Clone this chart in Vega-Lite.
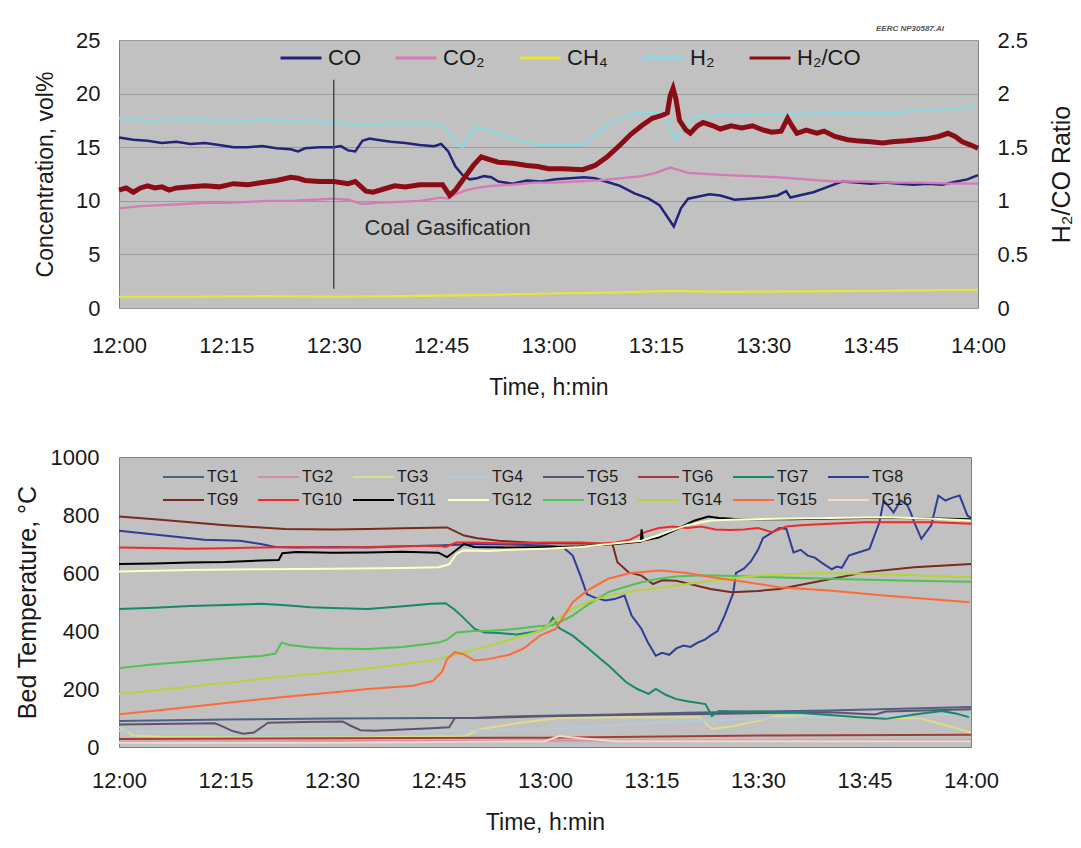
{
  "$schema": "https://vega.github.io/schema/vega-lite/v6.json",
  "background": "white",
  "padding": {"left": 14, "top": 24, "right": 5, "bottom": 5},
  "spacing": 45,
  "resolve": {"scale": {"color": "independent", "strokeWidth": "independent", "x": "independent"}, "legend": {"color": "independent"}},
  "config": {
    "font": "Liberation Sans",
    "view": {"fill": "#c1c1c1", "stroke": "#808080", "strokeWidth": 1},
    "axis": {"domain": false, "ticks": false, "grid": false, "labelFont": "Liberation Sans", "labelFontSize": 22, "labelColor": "#1a1a1a", "titleFont": "Liberation Sans", "titleFontSize": 23, "titleFontWeight": "normal", "titleColor": "#1a1a1a"},
    "legend": {"symbolType": "stroke", "symbolSize": 1681, "symbolStrokeWidth": 3, "labelFont": "Liberation Sans", "labelColor": "#1a1a1a", "orient": "none", "direction": "horizontal", "title": null, "clipHeight": 20}
  },
  "datasets": {
    "gas": [
      {"s":"CO","t":0,"v":15.9},{"s":"CO","t":2,"v":15.7},{"s":"CO","t":4,"v":15.6},{"s":"CO","t":6,"v":15.4},{"s":"CO","t":8,"v":15.5},{"s":"CO","t":10,"v":15.3},{"s":"CO","t":12,"v":15.4},{"s":"CO","t":14,"v":15.2},{"s":"CO","t":16,"v":15.0},{"s":"CO","t":18,"v":15.0},{"s":"CO","t":20,"v":15.1},{"s":"CO","t":22,"v":14.9},{"s":"CO","t":24,"v":14.8},{"s":"CO","t":25,"v":14.6},{"s":"CO","t":26,"v":14.9},{"s":"CO","t":28,"v":15.0},{"s":"CO","t":30,"v":15.0},{"s":"CO","t":31,"v":15.1},{"s":"CO","t":32,"v":14.7},{"s":"CO","t":33,"v":14.6},{"s":"CO","t":34,"v":15.6},{"s":"CO","t":35,"v":15.8},{"s":"CO","t":36,"v":15.7},{"s":"CO","t":38,"v":15.5},{"s":"CO","t":40,"v":15.4},{"s":"CO","t":42,"v":15.2},{"s":"CO","t":44,"v":15.1},{"s":"CO","t":45,"v":15.3},{"s":"CO","t":46,"v":14.6},{"s":"CO","t":47,"v":13.2},{"s":"CO","t":48,"v":12.4},{"s":"CO","t":49,"v":12.0},{"s":"CO","t":50,"v":12.1},{"s":"CO","t":51,"v":12.3},{"s":"CO","t":52,"v":12.2},{"s":"CO","t":53,"v":11.8},{"s":"CO","t":55,"v":11.6},{"s":"CO","t":57,"v":11.9},{"s":"CO","t":59,"v":11.8},{"s":"CO","t":61,"v":12.0},{"s":"CO","t":63,"v":12.1},{"s":"CO","t":65,"v":12.2},{"s":"CO","t":66.5,"v":12.1},{"s":"CO","t":68,"v":11.8},{"s":"CO","t":70,"v":11.4},{"s":"CO","t":72,"v":10.7},{"s":"CO","t":74,"v":10.2},{"s":"CO","t":75.5,"v":9.6},{"s":"CO","t":76.5,"v":8.6},{"s":"CO","t":77.5,"v":7.6},{"s":"CO","t":78.5,"v":9.3},{"s":"CO","t":79.5,"v":10.2},{"s":"CO","t":81,"v":10.4},{"s":"CO","t":82.5,"v":10.6},{"s":"CO","t":84,"v":10.5},{"s":"CO","t":86,"v":10.1},{"s":"CO","t":88,"v":10.2},{"s":"CO","t":90,"v":10.3},{"s":"CO","t":92,"v":10.5},{"s":"CO","t":93.2,"v":10.9},{"s":"CO","t":93.8,"v":10.3},{"s":"CO","t":95,"v":10.5},{"s":"CO","t":97,"v":10.8},{"s":"CO","t":99,"v":11.3},{"s":"CO","t":101,"v":11.8},{"s":"CO","t":103,"v":11.7},{"s":"CO","t":105,"v":11.6},{"s":"CO","t":107,"v":11.7},{"s":"CO","t":109,"v":11.6},{"s":"CO","t":111,"v":11.5},{"s":"CO","t":113,"v":11.6},{"s":"CO","t":115,"v":11.5},{"s":"CO","t":117,"v":11.8},{"s":"CO","t":118.5,"v":12.0},{"s":"CO","t":120,"v":12.4},
      {"s":"CO₂","t":0,"v":9.3},{"s":"CO₂","t":3,"v":9.5},{"s":"CO₂","t":6,"v":9.6},{"s":"CO₂","t":9,"v":9.7},{"s":"CO₂","t":12,"v":9.8},{"s":"CO₂","t":15,"v":9.8},{"s":"CO₂","t":18,"v":9.9},{"s":"CO₂","t":21,"v":10.0},{"s":"CO₂","t":24,"v":10.0},{"s":"CO₂","t":27,"v":10.1},{"s":"CO₂","t":30,"v":10.2},{"s":"CO₂","t":32,"v":10.1},{"s":"CO₂","t":34,"v":9.7},{"s":"CO₂","t":36,"v":9.8},{"s":"CO₂","t":39,"v":9.9},{"s":"CO₂","t":42,"v":10.0},{"s":"CO₂","t":45,"v":10.3},{"s":"CO₂","t":46,"v":10.2},{"s":"CO₂","t":47,"v":10.6},{"s":"CO₂","t":48.5,"v":11.0},{"s":"CO₂","t":50,"v":11.2},{"s":"CO₂","t":52,"v":11.4},{"s":"CO₂","t":55,"v":11.5},{"s":"CO₂","t":58,"v":11.7},{"s":"CO₂","t":61,"v":11.7},{"s":"CO₂","t":64,"v":11.8},{"s":"CO₂","t":67,"v":11.9},{"s":"CO₂","t":70,"v":12.1},{"s":"CO₂","t":73,"v":12.3},{"s":"CO₂","t":75,"v":12.6},{"s":"CO₂","t":77,"v":13.1},{"s":"CO₂","t":78,"v":12.9},{"s":"CO₂","t":79.5,"v":12.6},{"s":"CO₂","t":82,"v":12.5},{"s":"CO₂","t":85,"v":12.4},{"s":"CO₂","t":88,"v":12.3},{"s":"CO₂","t":92,"v":12.2},{"s":"CO₂","t":96,"v":12.0},{"s":"CO₂","t":100,"v":11.8},{"s":"CO₂","t":104,"v":11.8},{"s":"CO₂","t":108,"v":11.7},{"s":"CO₂","t":112,"v":11.7},{"s":"CO₂","t":116,"v":11.6},{"s":"CO₂","t":120,"v":11.6},
      {"s":"CH₄","t":0,"v":1.05},{"s":"CH₄","t":10,"v":1.05},{"s":"CH₄","t":20,"v":1.1},{"s":"CH₄","t":30,"v":1.05},{"s":"CH₄","t":40,"v":1.1},{"s":"CH₄","t":50,"v":1.2},{"s":"CH₄","t":60,"v":1.35},{"s":"CH₄","t":70,"v":1.45},{"s":"CH₄","t":77,"v":1.6},{"s":"CH₄","t":85,"v":1.5},{"s":"CH₄","t":95,"v":1.55},{"s":"CH₄","t":105,"v":1.6},{"s":"CH₄","t":112,"v":1.65},{"s":"CH₄","t":120,"v":1.7},
      {"s":"H₂","t":0,"v":17.7},{"s":"H₂","t":4,"v":17.5},{"s":"H₂","t":8,"v":17.6},{"s":"H₂","t":12,"v":17.6},{"s":"H₂","t":16,"v":17.4},{"s":"H₂","t":20,"v":17.6},{"s":"H₂","t":24,"v":17.5},{"s":"H₂","t":28,"v":17.4},{"s":"H₂","t":30,"v":17.3},{"s":"H₂","t":34,"v":17.1},{"s":"H₂","t":38,"v":17.2},{"s":"H₂","t":42,"v":17.2},{"s":"H₂","t":45,"v":17.1},{"s":"H₂","t":46,"v":16.4},{"s":"H₂","t":47,"v":15.3},{"s":"H₂","t":48,"v":15.0},{"s":"H₂","t":49,"v":16.2},{"s":"H₂","t":50,"v":16.9},{"s":"H₂","t":52,"v":16.5},{"s":"H₂","t":54,"v":16.1},{"s":"H₂","t":56.5,"v":15.5},{"s":"H₂","t":58.5,"v":15.2},{"s":"H₂","t":62,"v":15.2},{"s":"H₂","t":65,"v":15.3},{"s":"H₂","t":67,"v":16.3},{"s":"H₂","t":68.5,"v":17.2},{"s":"H₂","t":71,"v":17.9},{"s":"H₂","t":73,"v":18.3},{"s":"H₂","t":75.5,"v":18.2},{"s":"H₂","t":76.5,"v":17.5},{"s":"H₂","t":77.8,"v":15.6},{"s":"H₂","t":79,"v":17.2},{"s":"H₂","t":80.5,"v":17.8},{"s":"H₂","t":83,"v":18.0},{"s":"H₂","t":88,"v":18.1},{"s":"H₂","t":95,"v":18.1},{"s":"H₂","t":100,"v":18.2},{"s":"H₂","t":106,"v":18.2},{"s":"H₂","t":112,"v":18.4},{"s":"H₂","t":116,"v":18.6},{"s":"H₂","t":120,"v":18.8}
    ],
    "ratio": [
      {"s":"H₂/CO","t":0,"r":1.10},{"s":"H₂/CO","t":1,"r":1.12},{"s":"H₂/CO","t":2,"r":1.08},{"s":"H₂/CO","t":3,"r":1.12},{"s":"H₂/CO","t":4,"r":1.14},{"s":"H₂/CO","t":5,"r":1.12},{"s":"H₂/CO","t":6,"r":1.13},{"s":"H₂/CO","t":7,"r":1.10},{"s":"H₂/CO","t":8,"r":1.12},{"s":"H₂/CO","t":10,"r":1.13},{"s":"H₂/CO","t":12,"r":1.14},{"s":"H₂/CO","t":14,"r":1.13},{"s":"H₂/CO","t":16,"r":1.16},{"s":"H₂/CO","t":18,"r":1.15},{"s":"H₂/CO","t":20,"r":1.17},{"s":"H₂/CO","t":22,"r":1.19},{"s":"H₂/CO","t":24,"r":1.22},{"s":"H₂/CO","t":25,"r":1.21},{"s":"H₂/CO","t":26,"r":1.19},{"s":"H₂/CO","t":28,"r":1.18},{"s":"H₂/CO","t":30,"r":1.18},{"s":"H₂/CO","t":32,"r":1.16},{"s":"H₂/CO","t":33,"r":1.18},{"s":"H₂/CO","t":34.5,"r":1.09},{"s":"H₂/CO","t":35.5,"r":1.08},{"s":"H₂/CO","t":37,"r":1.11},{"s":"H₂/CO","t":38.5,"r":1.14},{"s":"H₂/CO","t":40,"r":1.13},{"s":"H₂/CO","t":42,"r":1.15},{"s":"H₂/CO","t":44,"r":1.15},{"s":"H₂/CO","t":45.2,"r":1.15},{"s":"H₂/CO","t":46.2,"r":1.05},{"s":"H₂/CO","t":47,"r":1.10},{"s":"H₂/CO","t":48.2,"r":1.21},{"s":"H₂/CO","t":49.5,"r":1.33},{"s":"H₂/CO","t":50.6,"r":1.41},{"s":"H₂/CO","t":51.5,"r":1.39},{"s":"H₂/CO","t":53,"r":1.36},{"s":"H₂/CO","t":55,"r":1.35},{"s":"H₂/CO","t":57,"r":1.33},{"s":"H₂/CO","t":58.5,"r":1.32},{"s":"H₂/CO","t":60,"r":1.30},{"s":"H₂/CO","t":62,"r":1.30},{"s":"H₂/CO","t":64.8,"r":1.29},{"s":"H₂/CO","t":66.5,"r":1.33},{"s":"H₂/CO","t":68.2,"r":1.41},{"s":"H₂/CO","t":70,"r":1.52},{"s":"H₂/CO","t":71.5,"r":1.62},{"s":"H₂/CO","t":73,"r":1.70},{"s":"H₂/CO","t":74.5,"r":1.77},{"s":"H₂/CO","t":76,"r":1.80},{"s":"H₂/CO","t":76.6,"r":1.82},{"s":"H₂/CO","t":77,"r":1.98},{"s":"H₂/CO","t":77.4,"r":2.05},{"s":"H₂/CO","t":77.8,"r":1.95},{"s":"H₂/CO","t":78.3,"r":1.75},{"s":"H₂/CO","t":79.2,"r":1.66},{"s":"H₂/CO","t":79.8,"r":1.63},{"s":"H₂/CO","t":80.8,"r":1.70},{"s":"H₂/CO","t":81.6,"r":1.73},{"s":"H₂/CO","t":83,"r":1.70},{"s":"H₂/CO","t":84,"r":1.67},{"s":"H₂/CO","t":85.5,"r":1.70},{"s":"H₂/CO","t":87,"r":1.68},{"s":"H₂/CO","t":88.5,"r":1.70},{"s":"H₂/CO","t":90,"r":1.66},{"s":"H₂/CO","t":91.2,"r":1.64},{"s":"H₂/CO","t":92.5,"r":1.65},{"s":"H₂/CO","t":93.4,"r":1.77},{"s":"H₂/CO","t":94,"r":1.70},{"s":"H₂/CO","t":94.7,"r":1.63},{"s":"H₂/CO","t":96,"r":1.66},{"s":"H₂/CO","t":97.5,"r":1.63},{"s":"H₂/CO","t":98.5,"r":1.65},{"s":"H₂/CO","t":100,"r":1.60},{"s":"H₂/CO","t":101.8,"r":1.57},{"s":"H₂/CO","t":103,"r":1.56},{"s":"H₂/CO","t":105,"r":1.55},{"s":"H₂/CO","t":106.7,"r":1.54},{"s":"H₂/CO","t":108,"r":1.55},{"s":"H₂/CO","t":110,"r":1.56},{"s":"H₂/CO","t":111.5,"r":1.57},{"s":"H₂/CO","t":113,"r":1.58},{"s":"H₂/CO","t":114.5,"r":1.60},{"s":"H₂/CO","t":115.8,"r":1.63},{"s":"H₂/CO","t":116.8,"r":1.60},{"s":"H₂/CO","t":117.8,"r":1.55},{"s":"H₂/CO","t":119,"r":1.52},{"s":"H₂/CO","t":120,"r":1.49}
    ],
    "marker": [{"t":30,"v":1.8,"v2":21.3}],
    "note": [{"t":34.3,"v":7.5,"label":"Coal Gasification"}],
    "stamp": [{"t":110.5,"v":26.0,"label":"EERC NP30587.AI"}],
    "tg": [
      {"s":"TG1","t":0,"T":90},{"s":"TG1","t":15,"T":95},{"s":"TG1","t":30,"T":98},{"s":"TG1","t":45,"T":100},{"s":"TG1","t":50,"T":100},{"s":"TG1","t":55,"T":105},{"s":"TG1","t":60,"T":108},{"s":"TG1","t":70,"T":112},{"s":"TG1","t":80,"T":118},{"s":"TG1","t":90,"T":122},{"s":"TG1","t":100,"T":126},{"s":"TG1","t":110,"T":132},{"s":"TG1","t":120,"T":138},
      {"s":"TG2","t":0,"T":18},{"s":"TG2","t":30,"T":20},{"s":"TG2","t":60,"T":22},{"s":"TG2","t":90,"T":22},{"s":"TG2","t":120,"T":22},
      {"s":"TG3","t":0,"T":69},{"s":"TG3","t":2,"T":40},{"s":"TG3","t":6,"T":35},{"s":"TG3","t":20,"T":33},{"s":"TG3","t":35,"T":34},{"s":"TG3","t":48.6,"T":37},{"s":"TG3","t":51,"T":62},{"s":"TG3","t":57,"T":85},{"s":"TG3","t":62,"T":100},{"s":"TG3","t":70,"T":103},{"s":"TG3","t":81.7,"T":103},{"s":"TG3","t":83.5,"T":62},{"s":"TG3","t":86,"T":70},{"s":"TG3","t":90,"T":90},{"s":"TG3","t":92.5,"T":107},{"s":"TG3","t":100,"T":104},{"s":"TG3","t":108,"T":100},{"s":"TG3","t":113,"T":98},{"s":"TG3","t":118.3,"T":62},{"s":"TG3","t":120,"T":50},
      {"s":"TG4","t":0,"T":55},{"s":"TG4","t":20,"T":50},{"s":"TG4","t":40,"T":55},{"s":"TG4","t":60,"T":60},{"s":"TG4","t":80,"T":90},{"s":"TG4","t":100,"T":105},{"s":"TG4","t":120,"T":115},
      {"s":"TG5","t":0,"T":78},{"s":"TG5","t":8,"T":80},{"s":"TG5","t":13.5,"T":82},{"s":"TG5","t":14.5,"T":72},{"s":"TG5","t":16,"T":55},{"s":"TG5","t":17.5,"T":46},{"s":"TG5","t":19,"T":50},{"s":"TG5","t":20.2,"T":70},{"s":"TG5","t":21,"T":84},{"s":"TG5","t":26,"T":86},{"s":"TG5","t":31.5,"T":88},{"s":"TG5","t":32.5,"T":75},{"s":"TG5","t":34,"T":58},{"s":"TG5","t":36,"T":56},{"s":"TG5","t":40,"T":60},{"s":"TG5","t":44,"T":65},{"s":"TG5","t":46.5,"T":68},{"s":"TG5","t":47.3,"T":100},{"s":"TG5","t":50,"T":100},{"s":"TG5","t":55,"T":103},{"s":"TG5","t":60,"T":106},{"s":"TG5","t":70,"T":110},{"s":"TG5","t":85,"T":115},{"s":"TG5","t":100,"T":120},{"s":"TG5","t":106.5,"T":112},{"s":"TG5","t":108,"T":122},{"s":"TG5","t":120,"T":130},
      {"s":"TG6","t":0,"T":28},{"s":"TG6","t":30,"T":30},{"s":"TG6","t":60,"T":32},{"s":"TG6","t":90,"T":40},{"s":"TG6","t":120,"T":42},
      {"s":"TG7","t":0,"T":476},{"s":"TG7","t":5,"T":480},{"s":"TG7","t":10,"T":486},{"s":"TG7","t":15,"T":490},{"s":"TG7","t":20,"T":494},{"s":"TG7","t":23,"T":490},{"s":"TG7","t":27,"T":482},{"s":"TG7","t":30,"T":479},{"s":"TG7","t":35,"T":476},{"s":"TG7","t":40,"T":485},{"s":"TG7","t":44,"T":494},{"s":"TG7","t":46,"T":496},{"s":"TG7","t":47.2,"T":475},{"s":"TG7","t":48.2,"T":453},{"s":"TG7","t":50.1,"T":407},{"s":"TG7","t":51.5,"T":395},{"s":"TG7","t":53.5,"T":393},{"s":"TG7","t":56,"T":388},{"s":"TG7","t":59.3,"T":400},{"s":"TG7","t":60.5,"T":420},{"s":"TG7","t":61.1,"T":446},{"s":"TG7","t":62,"T":410},{"s":"TG7","t":63.9,"T":384},{"s":"TG7","t":66.2,"T":338},{"s":"TG7","t":68,"T":300},{"s":"TG7","t":69,"T":280},{"s":"TG7","t":71.4,"T":224},{"s":"TG7","t":73,"T":200},{"s":"TG7","t":74.6,"T":183},{"s":"TG7","t":75.6,"T":200},{"s":"TG7","t":77,"T":180},{"s":"TG7","t":78.4,"T":166},{"s":"TG7","t":80,"T":158},{"s":"TG7","t":82.6,"T":148},{"s":"TG7","t":83.5,"T":107},{"s":"TG7","t":84.5,"T":124},{"s":"TG7","t":88,"T":122},{"s":"TG7","t":94.8,"T":120},{"s":"TG7","t":100,"T":110},{"s":"TG7","t":104.2,"T":103},{"s":"TG7","t":108,"T":97},{"s":"TG7","t":112,"T":112},{"s":"TG7","t":115.9,"T":124},{"s":"TG7","t":118,"T":115},{"s":"TG7","t":119.7,"T":103},
      {"s":"TG8","t":0,"T":746},{"s":"TG8","t":4,"T":735},{"s":"TG8","t":8,"T":725},{"s":"TG8","t":12,"T":715},{"s":"TG8","t":17,"T":711},{"s":"TG8","t":20,"T":700},{"s":"TG8","t":22,"T":690},{"s":"TG8","t":25,"T":688},{"s":"TG8","t":30,"T":690},{"s":"TG8","t":35,"T":688},{"s":"TG8","t":40,"T":692},{"s":"TG8","t":45,"T":695},{"s":"TG8","t":50,"T":700},{"s":"TG8","t":55,"T":698},{"s":"TG8","t":60,"T":695},{"s":"TG8","t":62.5,"T":690},{"s":"TG8","t":63.9,"T":660},{"s":"TG8","t":65,"T":590},{"s":"TG8","t":65.9,"T":527},{"s":"TG8","t":67,"T":515},{"s":"TG8","t":68.5,"T":505},{"s":"TG8","t":69.8,"T":510},{"s":"TG8","t":71.2,"T":522},{"s":"TG8","t":72.2,"T":453},{"s":"TG8","t":73.6,"T":407},{"s":"TG8","t":74.5,"T":360},{"s":"TG8","t":75.6,"T":315},{"s":"TG8","t":76.5,"T":325},{"s":"TG8","t":77.5,"T":318},{"s":"TG8","t":78.5,"T":340},{"s":"TG8","t":79.5,"T":350},{"s":"TG8","t":80.5,"T":345},{"s":"TG8","t":81.5,"T":360},{"s":"TG8","t":82.5,"T":370},{"s":"TG8","t":83.3,"T":384},{"s":"TG8","t":84.3,"T":400},{"s":"TG8","t":85.3,"T":453},{"s":"TG8","t":86.5,"T":530},{"s":"TG8","t":86.9,"T":600},{"s":"TG8","t":88,"T":615},{"s":"TG8","t":89,"T":640},{"s":"TG8","t":90,"T":680},{"s":"TG8","t":90.7,"T":720},{"s":"TG8","t":92,"T":740},{"s":"TG8","t":93,"T":755},{"s":"TG8","t":94,"T":752},{"s":"TG8","t":95,"T":671},{"s":"TG8","t":96,"T":680},{"s":"TG8","t":97,"T":660},{"s":"TG8","t":98,"T":653},{"s":"TG8","t":99,"T":635},{"s":"TG8","t":100.4,"T":613},{"s":"TG8","t":101.1,"T":622},{"s":"TG8","t":101.8,"T":618},{"s":"TG8","t":102.8,"T":660},{"s":"TG8","t":104,"T":670},{"s":"TG8","t":105.7,"T":683},{"s":"TG8","t":107.1,"T":775},{"s":"TG8","t":107.7,"T":850},{"s":"TG8","t":108.4,"T":830},{"s":"TG8","t":109.1,"T":809},{"s":"TG8","t":110.1,"T":850},{"s":"TG8","t":111,"T":835},{"s":"TG8","t":111.5,"T":809},{"s":"TG8","t":112,"T":775},{"s":"TG8","t":113,"T":718},{"s":"TG8","t":114.4,"T":764},{"s":"TG8","t":115.4,"T":867},{"s":"TG8","t":116.4,"T":850},{"s":"TG8","t":117.4,"T":860},{"s":"TG8","t":118.4,"T":867},{"s":"TG8","t":119.5,"T":798},{"s":"TG8","t":120,"T":790},
      {"s":"TG9","t":0,"T":795},{"s":"TG9","t":5,"T":785},{"s":"TG9","t":10,"T":775},{"s":"TG9","t":15,"T":765},{"s":"TG9","t":20,"T":757},{"s":"TG9","t":23.4,"T":752},{"s":"TG9","t":30,"T":750},{"s":"TG9","t":35,"T":752},{"s":"TG9","t":40,"T":754},{"s":"TG9","t":46.2,"T":757},{"s":"TG9","t":48.6,"T":729},{"s":"TG9","t":50.5,"T":720},{"s":"TG9","t":53.5,"T":711},{"s":"TG9","t":57,"T":706},{"s":"TG9","t":60,"T":703},{"s":"TG9","t":65,"T":702},{"s":"TG9","t":69.5,"T":700},{"s":"TG9","t":70.2,"T":637},{"s":"TG9","t":71.8,"T":602},{"s":"TG9","t":73.6,"T":591},{"s":"TG9","t":75.2,"T":562},{"s":"TG9","t":76.5,"T":575},{"s":"TG9","t":78.5,"T":573},{"s":"TG9","t":83.3,"T":545},{"s":"TG9","t":86.3,"T":534},{"s":"TG9","t":90,"T":538},{"s":"TG9","t":93,"T":545},{"s":"TG9","t":97.9,"T":568},{"s":"TG9","t":105.2,"T":603},{"s":"TG9","t":112,"T":620},{"s":"TG9","t":120,"T":631},
      {"s":"TG10","t":0,"T":688},{"s":"TG10","t":5,"T":686},{"s":"TG10","t":10,"T":684},{"s":"TG10","t":15,"T":685},{"s":"TG10","t":20,"T":688},{"s":"TG10","t":25,"T":690},{"s":"TG10","t":30,"T":688},{"s":"TG10","t":35,"T":690},{"s":"TG10","t":40,"T":692},{"s":"TG10","t":45,"T":694},{"s":"TG10","t":46,"T":690},{"s":"TG10","t":47.5,"T":705},{"s":"TG10","t":50,"T":705},{"s":"TG10","t":55,"T":702},{"s":"TG10","t":60,"T":705},{"s":"TG10","t":65,"T":705},{"s":"TG10","t":68,"T":702},{"s":"TG10","t":70,"T":705},{"s":"TG10","t":72,"T":715},{"s":"TG10","t":74,"T":740},{"s":"TG10","t":76,"T":755},{"s":"TG10","t":78,"T":760},{"s":"TG10","t":80,"T":755},{"s":"TG10","t":82,"T":760},{"s":"TG10","t":84,"T":750},{"s":"TG10","t":86,"T":748},{"s":"TG10","t":88,"T":750},{"s":"TG10","t":90,"T":755},{"s":"TG10","t":92,"T":741},{"s":"TG10","t":94,"T":760},{"s":"TG10","t":96,"T":765},{"s":"TG10","t":100,"T":770},{"s":"TG10","t":105,"T":775},{"s":"TG10","t":110,"T":775},{"s":"TG10","t":115,"T":775},{"s":"TG10","t":120,"T":770},
      {"s":"TG11","t":0,"T":631},{"s":"TG11","t":5,"T":633},{"s":"TG11","t":10,"T":636},{"s":"TG11","t":15,"T":638},{"s":"TG11","t":20,"T":643},{"s":"TG11","t":22.5,"T":645},{"s":"TG11","t":23,"T":668},{"s":"TG11","t":25,"T":672},{"s":"TG11","t":30,"T":670},{"s":"TG11","t":35,"T":671},{"s":"TG11","t":40,"T":673},{"s":"TG11","t":45,"T":670},{"s":"TG11","t":46.2,"T":655},{"s":"TG11","t":47,"T":670},{"s":"TG11","t":48.6,"T":700},{"s":"TG11","t":50,"T":690},{"s":"TG11","t":55,"T":688},{"s":"TG11","t":60,"T":689},{"s":"TG11","t":65,"T":692},{"s":"TG11","t":70,"T":700},{"s":"TG11","t":73.5,"T":708},{"s":"TG11","t":73.6,"T":750},{"s":"TG11","t":73.8,"T":712},{"s":"TG11","t":76,"T":722},{"s":"TG11","t":79.5,"T":762},{"s":"TG11","t":81,"T":780},{"s":"TG11","t":83,"T":795},{"s":"TG11","t":84.5,"T":790},{"s":"TG11","t":86.4,"T":787},{"s":"TG11","t":90,"T":785},{"s":"TG11","t":95,"T":785},{"s":"TG11","t":100,"T":788},{"s":"TG11","t":105,"T":790},{"s":"TG11","t":110,"T":790},{"s":"TG11","t":115,"T":788},{"s":"TG11","t":120,"T":785},
      {"s":"TG12","t":0,"T":605},{"s":"TG12","t":10,"T":610},{"s":"TG12","t":20,"T":613},{"s":"TG12","t":30,"T":615},{"s":"TG12","t":40,"T":617},{"s":"TG12","t":45,"T":620},{"s":"TG12","t":46.5,"T":630},{"s":"TG12","t":47.5,"T":665},{"s":"TG12","t":48.5,"T":678},{"s":"TG12","t":52,"T":676},{"s":"TG12","t":55,"T":680},{"s":"TG12","t":60,"T":684},{"s":"TG12","t":65,"T":690},{"s":"TG12","t":69,"T":700},{"s":"TG12","t":73.6,"T":711},{"s":"TG12","t":76,"T":730},{"s":"TG12","t":78.5,"T":752},{"s":"TG12","t":80,"T":765},{"s":"TG12","t":83.3,"T":781},{"s":"TG12","t":88,"T":785},{"s":"TG12","t":93,"T":787},{"s":"TG12","t":100,"T":790},{"s":"TG12","t":107.7,"T":792},{"s":"TG12","t":114,"T":788},{"s":"TG12","t":120,"T":781},
      {"s":"TG13","t":0,"T":272},{"s":"TG13","t":5,"T":285},{"s":"TG13","t":10,"T":295},{"s":"TG13","t":15,"T":305},{"s":"TG13","t":20,"T":314},{"s":"TG13","t":22,"T":322},{"s":"TG13","t":22.9,"T":360},{"s":"TG13","t":24,"T":352},{"s":"TG13","t":26.8,"T":344},{"s":"TG13","t":30,"T":340},{"s":"TG13","t":35,"T":338},{"s":"TG13","t":40,"T":345},{"s":"TG13","t":45,"T":360},{"s":"TG13","t":46.2,"T":370},{"s":"TG13","t":47.5,"T":395},{"s":"TG13","t":50,"T":400},{"s":"TG13","t":52,"T":400},{"s":"TG13","t":55,"T":405},{"s":"TG13","t":59.3,"T":417},{"s":"TG13","t":61,"T":420},{"s":"TG13","t":62,"T":430},{"s":"TG13","t":63.9,"T":453},{"s":"TG13","t":66,"T":490},{"s":"TG13","t":68.9,"T":534},{"s":"TG13","t":71,"T":550},{"s":"TG13","t":73.6,"T":568},{"s":"TG13","t":76,"T":580},{"s":"TG13","t":78.5,"T":588},{"s":"TG13","t":82,"T":592},{"s":"TG13","t":87,"T":590},{"s":"TG13","t":92,"T":585},{"s":"TG13","t":100,"T":580},{"s":"TG13","t":110,"T":574},{"s":"TG13","t":120,"T":570},
      {"s":"TG14","t":0,"T":183},{"s":"TG14","t":10,"T":208},{"s":"TG14","t":20,"T":235},{"s":"TG14","t":30,"T":258},{"s":"TG14","t":40,"T":285},{"s":"TG14","t":45,"T":303},{"s":"TG14","t":50,"T":335},{"s":"TG14","t":55,"T":370},{"s":"TG14","t":59.3,"T":400},{"s":"TG14","t":61,"T":430},{"s":"TG14","t":63.9,"T":476},{"s":"TG14","t":66,"T":500},{"s":"TG14","t":68.9,"T":522},{"s":"TG14","t":73,"T":540},{"s":"TG14","t":78.5,"T":557},{"s":"TG14","t":84,"T":575},{"s":"TG14","t":90,"T":591},{"s":"TG14","t":98,"T":600},{"s":"TG14","t":105,"T":597},{"s":"TG14","t":112,"T":592},{"s":"TG14","t":120,"T":585},
      {"s":"TG15","t":0,"T":113},{"s":"TG15","t":5,"T":125},{"s":"TG15","t":10,"T":138},{"s":"TG15","t":15,"T":152},{"s":"TG15","t":20,"T":165},{"s":"TG15","t":25,"T":177},{"s":"TG15","t":30,"T":188},{"s":"TG15","t":35,"T":200},{"s":"TG15","t":41.4,"T":211},{"s":"TG15","t":44.2,"T":228},{"s":"TG15","t":45.5,"T":260},{"s":"TG15","t":46.2,"T":303},{"s":"TG15","t":47.3,"T":327},{"s":"TG15","t":48.5,"T":320},{"s":"TG15","t":50.1,"T":298},{"s":"TG15","t":52,"T":303},{"s":"TG15","t":55,"T":318},{"s":"TG15","t":57,"T":340},{"s":"TG15","t":59.3,"T":384},{"s":"TG15","t":61.5,"T":407},{"s":"TG15","t":63.9,"T":499},{"s":"TG15","t":66,"T":540},{"s":"TG15","t":68.9,"T":580},{"s":"TG15","t":72,"T":600},{"s":"TG15","t":76.2,"T":609},{"s":"TG15","t":80,"T":600},{"s":"TG15","t":83.3,"T":586},{"s":"TG15","t":88,"T":570},{"s":"TG15","t":93,"T":551},{"s":"TG15","t":100,"T":540},{"s":"TG15","t":107.7,"T":522},{"s":"TG15","t":114,"T":510},{"s":"TG15","t":119.8,"T":499},
      {"s":"TG16","t":0,"T":15},{"s":"TG16","t":30,"T":15},{"s":"TG16","t":60,"T":20},{"s":"TG16","t":62,"T":38},{"s":"TG16","t":65,"T":30},{"s":"TG16","t":70,"T":20},{"s":"TG16","t":90,"T":20},{"s":"TG16","t":120,"T":20}
    ]
  },
  "vconcat": [
    {
      "width": 859,
      "height": 268,
      "layer": [
        {
          "encoding": {
            "x": {"field": "t", "type": "quantitative", "scale": {"domain": [0, 120], "nice": false, "zero": false}, "axis": {"values": [0, 15, 30, 45, 60, 75, 90, 105, 120], "labelExpr": "(12 + floor(datum.value / 60)) + ':' + (datum.value % 60 == 0 ? '00' : datum.value % 60)", "labelPadding": 27, "titlePadding": 20, "title": "Time, h:min", "labelFlush": false}},
            "y": {"field": "v", "type": "quantitative", "scale": {"domain": [0, 25], "nice": false}, "axis": {"values": [0, 5, 10, 15, 20, 25], "title": "Concentration, vol%", "labelPadding": 19, "titlePadding": 18, "grid": true, "gridColor": "#9a9a9a", "gridWidth": 1}}
          },
          "layer": [
            {
              "data": {"name": "gas"},
              "mark": {"type": "line"},
              "encoding": {
                "color": {"field": "s", "type": "nominal", "scale": {"domain": ["CO", "CO₂", "CH₄", "H₂", "H₂/CO"], "range": ["#23237a", "#d77ab8", "#e6e639", "#86dbe6", "#8b0c16"]}, "legend": {"legendX": 160, "legendY": 8, "columns": 5, "labelFontSize": 22, "columnPadding": 33, "labelOffset": 5, "gridAlign": "each"}},
                "strokeWidth": {"field": "s", "type": "nominal", "scale": {"domain": ["CO", "CO₂", "CH₄", "H₂"], "range": [2.5, 2, 4, 3.5]}, "legend": null}
              }
            },
            {
              "data": {"name": "marker"},
              "mark": {"type": "rule", "color": "#4a4a4a", "strokeWidth": 1.5},
              "encoding": {"y2": {"field": "v2"}}
            },
            {
              "data": {"name": "note"},
              "mark": {"type": "text", "align": "left", "baseline": "middle", "fontSize": 22, "color": "#2a2a2a"},
              "encoding": {"text": {"field": "label"}}
            },
            {
              "data": {"name": "stamp"},
              "mark": {"type": "text", "align": "center", "baseline": "middle", "fontSize": 8, "fontStyle": "italic", "fontWeight": "bold", "color": "#555555"},
              "encoding": {"text": {"field": "label"}}
            }
          ]
        },
        {
          "data": {"name": "ratio"},
          "mark": {"type": "line", "strokeWidth": 5},
          "encoding": {
            "x": {"field": "t", "type": "quantitative", "scale": {"domain": [0, 120], "nice": false, "zero": false}, "axis": {"values": [0, 15, 30, 45, 60, 75, 90, 105, 120], "labelExpr": "(12 + floor(datum.value / 60)) + ':' + (datum.value % 60 == 0 ? '00' : datum.value % 60)", "labelPadding": 27, "titlePadding": 20, "title": "Time, h:min", "labelFlush": false}},
            "y": {"field": "r", "type": "quantitative", "scale": {"domain": [0, 2.5], "nice": false}, "axis": {"orient": "right", "values": [0, 0.5, 1, 1.5, 2, 2.5], "format": "~g", "title": "H₂/CO Ratio", "titleAngle": 270, "titleFontSize": 25, "labelPadding": 19, "titlePadding": 47}},
            "color": {"field": "s", "type": "nominal", "scale": {"domain": ["CO", "CO₂", "CH₄", "H₂", "H₂/CO"], "range": ["#23237a", "#d77ab8", "#e6e639", "#86dbe6", "#8b0c16"]}, "legend": {"legendX": 160, "legendY": 8, "columns": 5, "labelFontSize": 22, "columnPadding": 33, "labelOffset": 5, "gridAlign": "each"}}
          }
        }
      ],
      "resolve": {"scale": {"y": "independent"}}
    },
    {
      "width": 852,
      "height": 290,
      "data": {"name": "tg"},
      "mark": {"type": "line"},
      "encoding": {
        "x": {"field": "t", "type": "quantitative", "scale": {"domain": [0, 120], "nice": false, "zero": false}, "axis": {"values": [0, 15, 30, 45, 60, 75, 90, 105, 120], "labelExpr": "(12 + floor(datum.value / 60)) + ':' + (datum.value % 60 == 0 ? '00' : datum.value % 60)", "labelPadding": 23, "titlePadding": 20, "title": "Time, h:min", "labelFlush": false}},
        "y": {"field": "T", "type": "quantitative", "scale": {"domain": [0, 1000], "nice": false}, "axis": {"values": [0, 200, 400, 600, 800, 1000], "format": "d", "title": "Bed Temperature, °C", "titleFontSize": 25, "labelPadding": 20, "titlePadding": 10}},
        "color": {"field": "s", "type": "nominal", "scale": {"domain": ["TG1", "TG2", "TG3", "TG4", "TG5", "TG6", "TG7", "TG8", "TG9", "TG10", "TG11", "TG12", "TG13", "TG14", "TG15", "TG16"], "range": ["#4d6185", "#d98aa6", "#dcdc8c", "#b3cbd9", "#5e5470", "#a83a3a", "#17876f", "#2e3d96", "#7a2a1c", "#ee2a2a", "#000000", "#ffffbf", "#4fc24f", "#b2d43c", "#ff6a3a", "#f3d9c9"]}, "legend": {"legendX": 43, "legendY": 10, "columns": 8, "labelFontSize": 16, "columnPadding": 9, "rowPadding": 3, "labelOffset": 2, "gridAlign": "all", "clipHeight": 20}},
        "strokeWidth": {"field": "s", "type": "nominal", "scale": {"domain": ["TG1", "TG2", "TG3", "TG4", "TG5", "TG6", "TG7", "TG8", "TG9", "TG10", "TG11", "TG12", "TG13", "TG14", "TG15", "TG16"], "range": [2, 2, 2.5, 2, 2, 3, 3, 2.5, 3, 3.5, 3, 3, 3.5, 3.5, 3, 2]}, "legend": null}
      }
    }
  ]
}
